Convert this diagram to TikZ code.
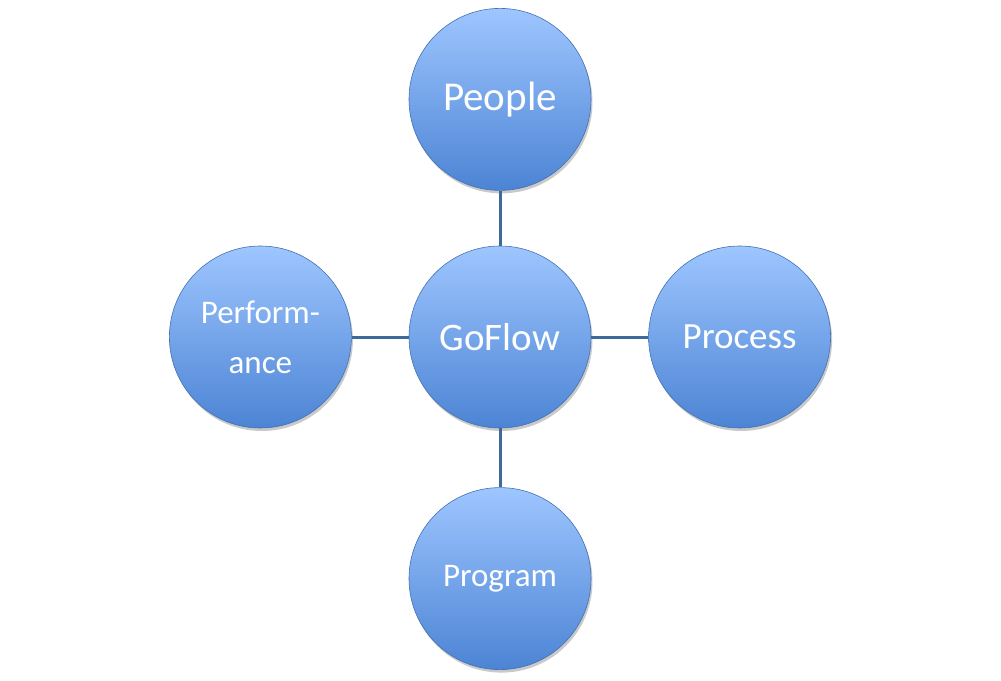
\documentclass[tikz,border=0pt]{standalone}
\usepackage{fontspec}
\setmainfont{Carlito}
\usepackage{tikz}
\usetikzlibrary{shapes,positioning,shadows}
\usepackage{xcolor}
\definecolor{gftop}{RGB}{158,198,255}
\definecolor{gfbottom}{RGB}{76,132,212}
\definecolor{gfedge}{RGB}{66,112,180}
\definecolor{gflink}{RGB}{62,106,154}
\tikzstyle{link} = [line width=3pt,color=gflink]
\tikzstyle{bubble} = [circle, minimum size=182pt, inner sep=0pt, text centered, align=center, text=white, top color=gftop, bottom color=gfbottom, draw=gfedge, line width=0.6pt, drop shadow={shadow xshift=1.5pt, shadow yshift=-3pt, opacity=0.3, fill=black!70}]

\begin{document}
\begin{tikzpicture}[node distance=57pt]
\useasboundingbox (-500pt,-343pt) rectangle (501pt,337pt);
% Hub
\node[bubble, font=\fontsize{39}{40}\selectfont] (goflow) {GoFlow};

% Spokes
\node[bubble, above=of goflow, font=\fontsize{41}{40}\selectfont, yshift=-2pt] (people) {People};
\node[bubble, left=of goflow, font=\fontsize{33}{50}\selectfont] (perf) {Perform-\\ance};
\node[bubble, right=of goflow, font=\fontsize{37}{40}\selectfont] (process) {Process};
\node[bubble, below=of goflow, font=\fontsize{33}{40}\selectfont, yshift=-2pt] (program) {Program};

% Links
\draw[link] (goflow) -- (people);
\draw[link] (goflow) -- (perf);
\draw[link] (goflow) -- (process);
\draw[link] (goflow) -- (program);
\end{tikzpicture}
\end{document}
